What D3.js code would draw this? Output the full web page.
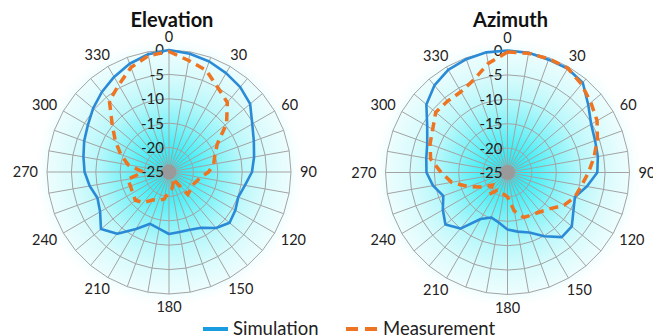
<!DOCTYPE html>
<html>
<head>
<meta charset="utf-8">
<script src="https://cdn.jsdelivr.net/npm/d3@7"></script>
<style>
  html, body { margin: 0; padding: 0; background: #ffffff; }
  svg { display: block; }
  text { font-family: Lato, "Liberation Sans", sans-serif; }
</style>
</head>
<body>
<svg id="chart" width="653" height="336"></svg>
<script>
// ---------- data ----------
const angles = d3.range(0, 360, 10);
const angleTicks = [0, 30, 60, 90, 120, 150, 180, 210, 240, 270, 300, 330];
const radialTicks = [0, -5, -10, -15, -20, -25];
const chartTitles = ["Elevation", "Azimuth"];
const seriesNames = ["Simulation", "Measurement"];

const elevSim = [0, -0.4, -0.9, -1.6, -2.3, -3.3, -5.3, -6.5, -7.3, -8.0,
  -9.2, -9.9, -9.3, -8.8, -10.0, -11.8, -12.4, -12.5, -12.3, -13.2,
  -13.7, -11.5, -8.5, -6.8, -8.7, -9.4, -8.5, -7.7, -7.2, -6.5,
  -5.8, -4.7, -3.6, -2.5, -1.4, -0.5];
const elevMeas = [-0.3, -1.8, -2.8, -5.0, -6.4, -9.6, -13.6, -15.0, -15.7, -16.9,
  -18.5, -19.1, -19.5, -19.3, -19.0, -23.5, -22.5, -21.5, -21.0, -19.4,
  -18.8, -18.4, -16.8, -16.0, -16.4, -16.6, -16.4, -19.7, -16.5, -14.5,
  -12.3, -9.8, -6.0, -4.4, -2.2, -0.8];
const azSim = [0, -0.1, -0.4, -0.4, -1.0, -3.4, -5.2, -5.9, -6.2, -6.6,
  -8.5, -10.3, -9.4, -7.8, -7.7, -9.9, -11.9, -12.7, -13.3, -14.6,
  -15.2, -14.0, -10.0, -8.4, -9.7, -11.0, -9.5, -8.4, -8.1, -7.5,
  -6.0, -3.3, -1.7, -0.7, -0.3, 0];
const azMeas = [-0.3, -0.2, -0.2, -0.3, -1.4, -2.7, -3.8, -5.4, -7.0, -8.4,
  -9.6, -10.3, -11.6, -13.5, -14.5, -15.0, -15.2, -17.0, -20.0, -20.5,
  -20.7, -20.8, -19.2, -21.0, -19.0, -16.5, -13.4, -11.4, -9.0, -8.1,
  -7.3, -5.8, -5.9, -5.9, -4.8, -2.3];

const charts = [
  { title: chartTitles[0], sim: elevSim, meas: elevMeas, cx: 169, cy: 172 },
  { title: chartTitles[1], sim: azSim, meas: azMeas, cx: 507.5, cy: 172.5 }
];

// ---------- drawing ----------
const R = 122;
const simColor = "#2b8ad6";
const measColor = "#ee7421";
const gridColor = "#a3a3a3";

const svg = d3.select("#chart");
const defs = svg.append("defs");

const rScale = d3.scaleLinear().domain([-25, 0]).range([0, R]);
const aScale = d3.scaleLinear().domain([0, 360]).range([0, 2 * Math.PI]);

const grad = defs.append("radialGradient").attr("id", "glow");
[[0, "rgb(20,232,242)", 1], [0.18, "rgb(70,238,246)", 1], [0.36, "rgb(132,243,248)", 1],
 [0.54, "rgb(186,248,251)", 1], [0.72, "rgb(218,251,252)", 1], [0.88, "rgb(236,253,254)", 1],
 [1, "rgb(255,255,255)", 0]].forEach(s => {
  grad.append("stop").attr("offset", s[0]).attr("stop-color", s[1]).attr("stop-opacity", s[2]);
});

charts.forEach(c => {
  const g = svg.append("g").attr("transform", `translate(${c.cx},${c.cy})`);

  g.append("circle").attr("r", R * 1.12).attr("fill", "url(#glow)");

  // ring polygons
  const ringLine = d3.lineRadial()
    .angle(d => aScale(d))
    .curve(d3.curveLinearClosed);
  radialTicks.filter(t => t > -25).forEach(t => {
    g.append("path")
      .attr("d", ringLine.radius(rScale(t))(angles))
      .attr("fill", "none").attr("stroke", gridColor).attr("stroke-width", 1);
  });

  // spokes
  g.selectAll("line.spoke").data(angles).join("line")
    .attr("class", "spoke")
    .attr("x1", 0).attr("y1", 0)
    .attr("x2", d => rScale(0) * Math.sin(aScale(d)))
    .attr("y2", d => -rScale(0) * Math.cos(aScale(d)))
    .attr("stroke", gridColor).attr("stroke-width", 1);

  g.append("circle").attr("r", 7.5).attr("fill", "#9a9a9a");

  // radial labels
  g.selectAll("text.rlab").data(radialTicks).join("text")
    .attr("class", "rlab")
    .attr("x", -5)
    .attr("y", d => -rScale(d))
    .attr("dy", "0.36em")
    .attr("text-anchor", "end")
    .attr("font-size", 15)
    .attr("fill", "#222")
    .text(d => d);

  // angle labels
  g.selectAll("text.alab").data(angleTicks).join("text")
    .attr("class", "alab")
    .attr("font-size", 14.5)
    .attr("fill", "#222")
    .attr("text-anchor", "middle")
    .text(d => d)
    .each(function(d) {
      const w = this.getComputedTextLength();
      const a = aScale(d);
      const rr = R + 7;
      const x = rr * Math.sin(a) + Math.sin(a) * (w / 2 + 2);
      const y = -rr * Math.cos(a) - Math.cos(a) * 6;
      d3.select(this).attr("x", x).attr("y", y).attr("dy", "0.36em");
    });

  // series
  const line = d3.lineRadial()
    .angle((d, i) => aScale(angles[i]))
    .radius(d => rScale(d))
    .curve(d3.curveLinearClosed);

  g.append("path").attr("d", line(c.sim))
    .attr("fill", "none").attr("stroke", simColor).attr("stroke-width", 2.6)
    .attr("stroke-linejoin", "round");
  g.append("path").attr("d", line(c.meas))
    .attr("fill", "none").attr("stroke", measColor).attr("stroke-width", 3.5)
    .attr("stroke-dasharray", "9,6");

  // title
  svg.append("text")
    .attr("x", c.cx + 3).attr("y", 27)
    .attr("text-anchor", "middle")
    .attr("font-size", 20).attr("font-weight", "bold")
    .attr("fill", "#111")
    .text(c.title);
});

// legend
const leg = svg.append("g");
leg.append("line").attr("x1", 203).attr("x2", 228).attr("y1", 329).attr("y2", 329)
  .attr("stroke", "#1a9de0").attr("stroke-width", 4);
leg.append("text").attr("x", 233).attr("y", 335).attr("font-size", 18.5).attr("fill", "#222")
  .text(seriesNames[0]);
leg.append("line").attr("x1", 346).attr("x2", 377).attr("y1", 329).attr("y2", 329)
  .attr("stroke", measColor).attr("stroke-width", 4).attr("stroke-dasharray", "12,7");
leg.append("text").attr("x", 383).attr("y", 335).attr("font-size", 18.5).attr("fill", "#222")
  .text(seriesNames[1]);
</script>
</body>
</html>
